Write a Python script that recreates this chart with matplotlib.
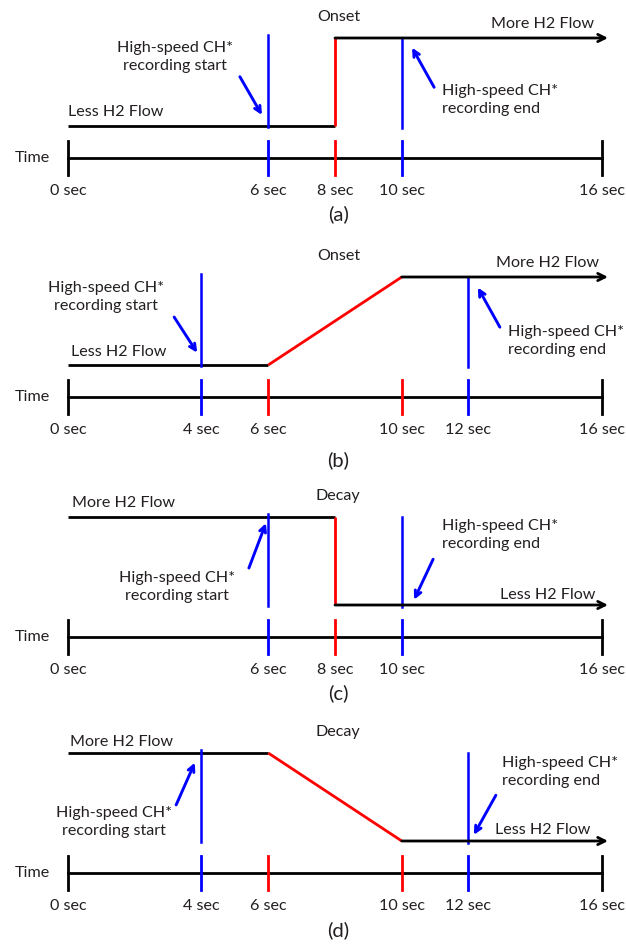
import numpy as np
from matplotlib import pyplot as plt

plt.rcParams['font.family'] = ['Lato', 'DejaVu Sans']
plt.rcParams['text.color'] = '#231f20'

# timing of the four H2 flow cases (seconds)
panel_labels = ['(a)', '(b)', '(c)', '(d)']
event_names = ['Onset', 'Onset', 'Decay', 'Decay']
change_start = [8, 6, 8, 6]
change_end = [8, 10, 8, 10]
rec_start = [6, 4, 6, 4]
rec_end = [10, 12, 10, 12]
level_before = [0, 0, 1, 1]     # 0 = less H2 flow, 1 = more H2 flow
level_after = [1, 1, 0, 0]
total_time = 16

# text placement per panel, (t, level) in axes data units
start_text = [(3.2, 0.78), (1.14, 0.77), (3.27, 0.2), (1.38, 0.22)]
start_arrow = [((5.15, 0.56), (5.81, 0.125)), ((3.18, 0.545), (3.87, 0.14)),
               ((5.42, 0.42), (5.93, 0.93)), ((3.24, 0.41), (3.8, 0.89))]
end_text = [(11.2, 0.30), (13.18, 0.27), (11.2, 0.80), (13.0, 0.78)]
end_arrow = [((10.97, 0.44), (10.31, 0.89)), ((12.94, 0.43), (12.28, 0.88)),
             ((10.94, 0.52), (10.37, 0.06)), ((12.82, 0.52), (12.16, 0.07))]
more_pos = [(14.22, 1.16, 'center'), (14.38, 1.16, 'center'), (0.12, 1.16, 'left'), (0.06, 1.125, 'left')]
less_pos = [(0.0, 0.16, 'left'), (0.09, 0.15, 'left'), (14.38, 0.11, 'center'), (14.23, 0.125, 'center')]
low_px = [126, 365, 605, 841]
label_y = [-1.0, -1.08, -1.0, -1.01]

W, H = 626, 947
unit = 88.0          # pixels per flow level
px_per_sec = 33.375
x0_px = 68
BLUE = '#0000ff'
RED = '#ff0000'
FS = 11.6

fig = plt.figure(figsize=(W / 100, H / 100), dpi=100)

for i in range(4):
    ylo, yhi = -1.15, 1.4
    bottom = 1 - (low_px[i] - ylo * unit) / H
    ax = fig.add_axes([0, bottom, 1, (yhi - ylo) * unit / H])
    ax.set_xlim(-x0_px / px_per_sec, (W - x0_px) / px_per_sec)
    ax.set_ylim(ylo, yhi)
    ax.set_axis_off()

    lb, la = level_before[i], level_after[i]
    cs, ce = change_start[i], change_end[i]

    # flow profile: black steady parts, red transition, arrow at the end
    ax.plot([0, cs], [lb, lb], color='k', lw=2, solid_capstyle='butt')
    ax.plot([cs, ce], [lb, la], color=RED, lw=2, solid_capstyle='butt')
    t_end = total_time + 0.18
    ax.annotate('', xy=(t_end, la), xytext=(ce, la),
                arrowprops=dict(arrowstyle='->', lw=2, color='k',
                                shrinkA=0, shrinkB=0, mutation_scale=13))

    # recording start / end lines
    ax.plot([rec_start[i]] * 2, [min(lb, la) - 0.01, 1.03], color=BLUE, lw=1.8)
    ax.plot([rec_end[i]] * 2, [-0.02, 1.0], color=BLUE, lw=1.8)

    # time axis
    ty = -0.36
    ax.plot([0, total_time], [ty, ty], color='k', lw=2)
    ticks = [(0, 'k'), (rec_start[i], BLUE), (cs, RED), (ce, RED),
             (rec_end[i], BLUE), (total_time, 'k')]
    seen = []
    for t, c in ticks:
        if t in seen:
            continue
        seen.append(t)
        ax.plot([t, t], [ty + 0.19, ty - 0.2], color=c, lw=2)
        ax.text(t, -0.74, '%d sec' % t, ha='center', va='center', fontsize=FS)
    ax.text(-1.08, ty, 'Time', ha='center', va='center', fontsize=FS)

    ax.text(8.1, 1.235, event_names[i], ha='center', va='center', fontsize=FS)
    ax.text(8.1, label_y[i], panel_labels[i], ha='center', va='center', fontsize=FS + 3)

    mx, my, mha = more_pos[i]
    ax.text(mx, my, 'More H2 Flow', ha=mha, va='center', fontsize=FS)
    lx, ly, lha = less_pos[i]
    ax.text(lx, ly, 'Less H2 Flow', ha=lha, va='center', fontsize=FS)

    ax.text(*start_text[i], 'High-speed CH*\nrecording start', ha='center', va='center',
            fontsize=FS, linespacing=1.35)
    ax.text(*end_text[i], 'High-speed CH*\nrecording end', ha='left', va='center',
            fontsize=FS, linespacing=1.35)

    for (tail, head) in [start_arrow[i], end_arrow[i]]:
        ax.annotate('', xy=head, xytext=tail,
                    arrowprops=dict(arrowstyle='->', lw=2.1, color=BLUE,
                                    shrinkA=0, shrinkB=0, mutation_scale=11))

fig.savefig('out.png', dpi=100)
